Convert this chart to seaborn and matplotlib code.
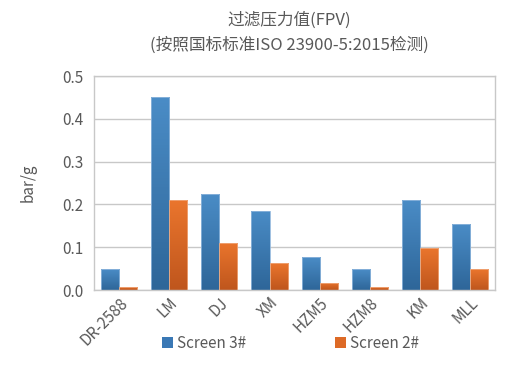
import numpy as np
import pandas as pd
import matplotlib.pyplot as plt
from matplotlib.colors import LinearSegmentedColormap
import seaborn as sns

# values
categories = ["DR-2588", "LM", "DJ", "XM", "HZM5", "HZM8", "KM", "MLL"]
screen3 = [0.048, 0.450, 0.225, 0.185, 0.077, 0.049, 0.211, 0.154]
screen2 = [0.008, 0.210, 0.110, 0.063, 0.017, 0.008, 0.098, 0.048]
series_names = ["Screen 3#", "Screen 2#"]
yticks = [0.0, 0.1, 0.2, 0.3, 0.4, 0.5]

df = pd.DataFrame({
    "cat": categories * 2,
    "val": screen3 + screen2,
    "series": [series_names[0]] * len(categories) + [series_names[1]] * len(categories),
})

sns.set_style("white")
plt.rcParams["font.family"] = ["Noto Sans CJK SC", "DejaVu Sans"]

grey = "#595959"
fig = plt.figure(figsize=(5.2, 3.69), dpi=100)
ax = fig.add_axes([0.181, 0.214, 0.771, 0.58])

sns.barplot(data=df, x="cat", y="val", hue="series", ax=ax,
            palette=["#3a78b5", "#dd6a26"], width=0.72, gap=0,
            edgecolor="none", saturation=1)

# vertical gradient fill like the office-style bars
cmaps = [LinearSegmentedColormap.from_list("b", ["#2e6699", "#4a8cc6"]),
         LinearSegmentedColormap.from_list("o", ["#bf561d", "#ea752d"])]
edges = ["#8fb6dc", "#f0a77a"]
grad = np.linspace(0, 1, 64).reshape(-1, 1)
n = len(categories)
for i, bar in enumerate(ax.patches[:2 * n]):
    k = i // n
    x0, y0 = bar.get_x(), bar.get_y()
    w, h = bar.get_width(), bar.get_height()
    im = ax.imshow(grad, cmap=cmaps[k], origin="lower", aspect="auto",
                   extent=(x0, x0 + w, y0, y0 + h), zorder=bar.get_zorder())
    im.set_clip_path(bar)
    bar.set_facecolor("none")
    bar.set_edgecolor(edges[k])
    bar.set_linewidth(0.6)
    bar.set_zorder(bar.get_zorder() + 0.1)

ax.set_xlim(-0.5, n - 0.5)
ax.set_ylim(0, 0.5)
ax.set_yticks(yticks)
ax.set_yticklabels([f"{t:.1f}" for t in yticks], color=grey, fontsize=11)
ax.yaxis.grid(True, color="#c8c8c8", linewidth=1)
ax.set_axisbelow(True)
for s in ax.spines.values():
    s.set_color("#c8c8c8")
    s.set_linewidth(1)
ax.tick_params(axis="y", length=0, pad=8)
ax.tick_params(axis="x", length=0, pad=3)
ax.set_xticks(range(n))
ax.set_xticklabels(categories, rotation=45, ha="right", rotation_mode="anchor",
                   color=grey, fontsize=11)
ax.set_xlabel("")
ax.set_ylabel("bar/g", color=grey, fontsize=11, labelpad=18)

fig.text(0.557, 0.945, "过滤压力值(FPV)", ha="center", va="center",
         color=grey, fontsize=12)
fig.text(0.557, 0.878, "(按照国标标准ISO 23900-5:2015检测)", ha="center",
         va="center", color=grey, fontsize=12)

leg = ax.legend(loc="center", bbox_to_anchor=(0.49, -0.25), ncol=2, frameon=False,
                fontsize=11, handlelength=0.7, handleheight=0.7, handletextpad=0.3,
                columnspacing=5.8, labelcolor=grey)
for h, c in zip(leg.legend_handles, ["#3a78b5", "#dd6a26"]):
    h.set_facecolor(c)
    h.set_edgecolor("none")

fig.savefig("out.png", dpi=100)
